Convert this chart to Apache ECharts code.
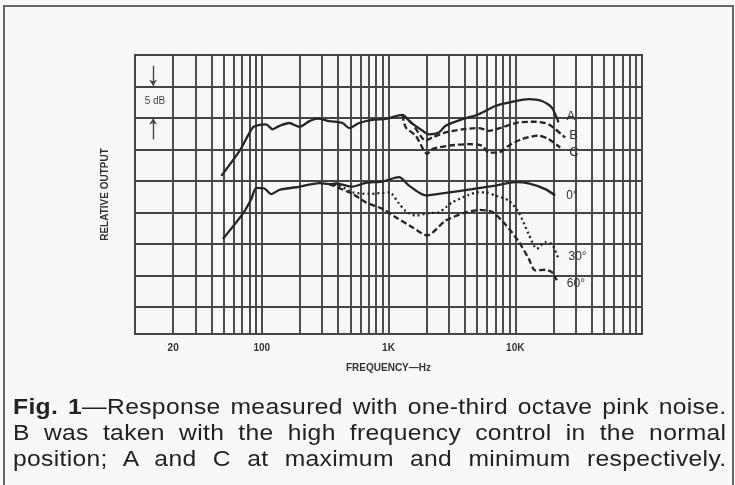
<!DOCTYPE html>
<html>
<head>
<meta charset="utf-8">
<script src="https://cdn.jsdelivr.net/npm/echarts@6/dist/echarts.min.js"></script>
<style>
  html, body { margin: 0; padding: 0; background: #f8f8f6; }
  #wrap { position: relative; width: 735px; height: 485px; overflow: hidden; }
  #frame { position: absolute; left: 3px; top: 5px; width: 727px; height: 520px; border: 2px solid #666; }
  #chart { position: absolute; left: 0; top: 0; width: 735px; height: 485px; }
  #caption {
    position: absolute; left: 13px; top: 394px; width: 637px;
    transform: scaleX(1.12); transform-origin: 0 0;
    font-family: "Liberation Sans", Arial, sans-serif;
    font-size: 22px; line-height: 26px; letter-spacing: 0.3px; color: #222;
  }
  #caption div { text-align: justify; text-align-last: justify; }
  #caption b { font-weight: bold; }
</style>
</head>
<body>
<div id="wrap">
  <div id="frame"></div>
  <div id="chart"></div>
  <div id="caption">
    <div><b>Fig. 1</b>—Response measured with one-third octave pink noise.</div>
    <div>B was taken with the high frequency control in the normal</div>
    <div>position; A and C at maximum and minimum respectively.</div>
  </div>
</div>
<script>
// grid lines of the log paper
const gridFreqs = [20, 30, 40, 50, 60, 70, 80, 90,
  100, 200, 300, 400, 500, 600, 700, 800, 900,
  1000, 2000, 3000, 4000, 5000, 6000, 7000, 8000, 9000,
  10000, 20000, 30000, 40000, 50000, 60000, 70000, 80000, 90000];
const gridLevels = [0, 5, 10, 15, 20, 25, 30, 35];
const tickFreqs = [20, 100, 1000, 10000];
const tickLabels = ['20', '100', '1K', '10K'];

// A (max HF), B and C share A up to ~1.3 kHz
const aFreq = [48, 67, 85, 96, 108, 122, 138, 165, 198, 238, 276, 341, 434, 490, 587, 747, 952, 1286,
  1497, 1848, 2084, 2500, 2822, 3811, 5157, 6975, 9419, 12746, 16218, 19436, 21941];
const aLevel = [20.8, 24.8, 28.5, 28.9, 29.0, 28.2, 28.75, 29.2, 28.6, 29.5, 29.9, 29.5, 29.2, 28.4, 29.2, 29.7, 29.85, 30.5,
  29.3, 28.0, 27.4, 27.7, 28.75, 29.8, 30.6, 31.9, 32.55, 33.0, 32.7, 31.65, 29.3];
const bFreq = [1286, 1541, 1965, 2213, 2822, 3811, 5157, 6179, 7862, 10630, 14388, 18307, 24766];
const bLevel = [30.5, 29.1, 26.4, 26.9, 27.7, 28.2, 28.4, 27.96, 28.5, 29.3, 29.4, 29.0, 26.9];
const cFreq = [1286, 1368, 1639, 2022, 2213, 2995, 4301, 5473, 6179, 7405, 8872, 11290, 15277, 18307, 22624];
const cLevel = [30.5, 28.5, 27.2, 24.3, 25.06, 25.6, 25.85, 25.6, 24.5, 24.5, 25.6, 26.65, 27.2, 26.65, 25.3];

// off-axis curves, 30 and 60 share 0 up to ~340 Hz
const d0Freq = [49.4, 71, 82.7, 90.5, 105, 119, 138, 187, 285, 341, 385, 520, 663, 895, 1212, 1452, 1965, 2822, 4566, 6975, 10020, 12746, 17244, 20670];
const d0Level = [10.8, 14.8, 17.15, 18.9, 18.8, 17.9, 18.6, 19.0, 19.65, 19.5, 19.6, 19.1, 19.7, 19.9, 20.6, 19.26, 17.7, 18.1, 18.7, 19.26, 19.8, 19.6, 18.7, 17.7];
const d30Freq = [341, 409, 520, 704, 1011, 1212, 1368, 1639, 2084, 2500, 2822, 3181, 4301, 5157, 5821, 6975, 8872, 10630, 12746, 14814, 17244, 19436, 20670, 21941];
const d30Level = [19.5, 19.26, 18.2, 17.94, 18.2, 16.4, 15.2, 14.5, 14.9, 15.0, 15.8, 16.6, 17.8, 18.2, 18.2, 17.67, 16.9, 15.03, 11.6, 9.24, 10.28, 10.0, 8.97, 7.66];
const d60Freq = [341, 520, 663, 895, 1141, 1541, 2022, 2822, 4053, 5157, 6560, 8361, 10630, 12746, 14388, 17244, 19436, 21275];
const d60Level = [19.5, 17.94, 16.6, 15.57, 14.24, 12.66, 11.35, 13.7, 15.0, 15.4, 15.1, 13.1, 10.4, 7.7, 5.8, 5.9, 5.54, 4.22];

const GRID = '#454545';
const INK = '#262626';
const LABEL_FONT = '"Liberation Sans Narrow", "Liberation Sans", Arial, sans-serif';

function pairs(fs, ls) {
  return fs.map((f, i) => [f, ls[i]]);
}

function curve(name, fs, ls, dash, label, offset, size) {
  return {
    name: name,
    type: 'line',
    data: pairs(fs, ls),
    showSymbol: false,
    smooth: 0.25,
    silent: true,
    z: 5,
    lineStyle: { color: INK, width: 2.3, type: dash },
    endLabel: {
      show: true,
      formatter: label,
      offset: offset,
      color: '#333',
      fontFamily: LABEL_FONT,
      fontSize: size
    }
  };
}

const gridMarks = gridFreqs.map(f => {
  const k = tickFreqs.indexOf(f);
  const item = { xAxis: f };
  if (k >= 0) {
    item.label = {
      show: true,
      position: 'start',
      distance: 9,
      formatter: tickLabels[k],
      color: '#333',
      fontFamily: LABEL_FONT,
      fontWeight: 'bold',
      fontSize: 10
    };
  }
  return item;
}).concat(gridLevels.map(v => ({ yAxis: v })));

const chart = echarts.init(document.getElementById('chart'));

const option = {
  animation: false,
  backgroundColor: 'transparent',
  grid: {
    left: 135, right: 93, top: 55, bottom: 151,
    show: true, borderColor: GRID, borderWidth: 2, backgroundColor: 'transparent'
  },
  xAxis: {
    type: 'log', logBase: 10, min: 10, max: 100000,
    axisLine: { show: false }, axisTick: { show: false }, axisLabel: { show: false }, splitLine: { show: false },
    name: 'FREQUENCY—Hz', nameLocation: 'middle', nameGap: 29,
    nameTextStyle: { color: '#333', fontFamily: LABEL_FONT, fontWeight: 'bold', fontSize: 10 }
  },
  yAxis: {
    type: 'value', min: -4.3, max: 40,
    axisLine: { show: false }, axisTick: { show: false }, axisLabel: { show: false }, splitLine: { show: false },
    name: 'RELATIVE OUTPUT', nameLocation: 'middle', nameGap: 25,
    nameTextStyle: { color: '#333', fontFamily: LABEL_FONT, fontWeight: 'bold', fontSize: 10 }
  },
  graphic: [{
    type: 'text', x: 155, y: 101,
    style: { text: '5 dB', fill: '#444', font: '10px ' + LABEL_FONT, align: 'center', verticalAlign: 'middle' }
  }],
  series: [
    {
      name: 'paper',
      type: 'line',
      data: [],
      silent: true,
      z: 1,
      markLine: {
        silent: true,
        symbol: 'none',
        animation: false,
        lineStyle: { color: GRID, width: 1.9, type: 'solid' },
        label: { show: false },
        emphasis: { disabled: true },
        data: gridMarks
      }
    },
    {
      name: 'scale',
      type: 'line',
      data: [],
      silent: true,
      z: 2,
      markLine: {
        silent: true,
        symbol: ['none', 'arrow'],
        symbolSize: 6,
        animation: false,
        lineStyle: { color: '#444', width: 1.4, type: 'solid' },
        label: { show: false },
        data: [
          [{ coord: [13.9, 38.3] }, { coord: [13.9, 35.1] }],
          [{ coord: [13.9, 26.6] }, { coord: [13.9, 29.9] }]
        ]
      }
    },
    curve('A', aFreq, aLevel, 'solid', 'A', [0, -6], 13),
    curve('B', bFreq, bLevel, [6, 3], 'B', [-4, -2], 13),
    curve('C', cFreq, cLevel, [6, 3], 'C', [1, 5], 13),
    curve('0°', d0Freq, d0Level, 'solid', '0°', [3, 0], 12),
    curve('30°', d30Freq, d30Level, [2, 3], '30°', [2, -2], 12),
    curve('60°', d60Freq, d60Level, [6, 3], '60°', [2, 3], 12)
  ]
};

chart.setOption(option);
</script>
</body>
</html>
